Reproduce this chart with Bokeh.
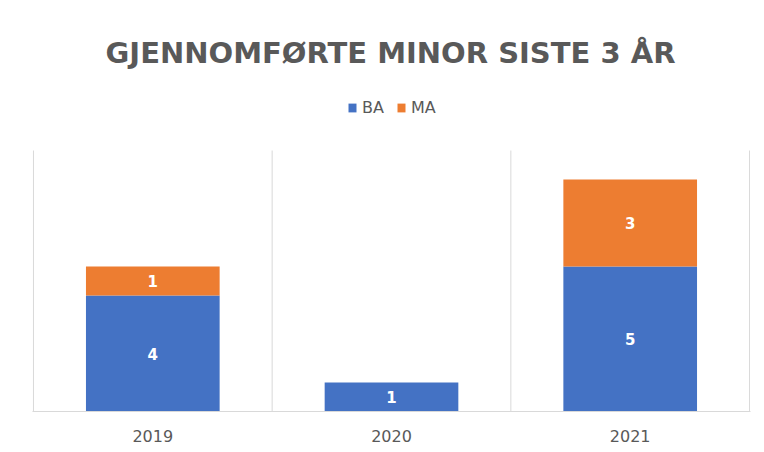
from bokeh.plotting import figure
from bokeh.models import ColumnDataSource, Range1d, FixedTicker, Legend, LegendItem, Label
from bokeh.core.properties import value
from bokeh.embed import file_html
from bokeh.resources import INLINE

# ---- data ----
years = ["2019", "2020", "2021"]
ba = [4, 1, 5]
ma = [1, 0, 3]
series = ["BA", "MA"]
colors = ["#4472C4", "#ED7D31"]
title_text = "GJENNOMFØRTE MINOR SISTE 3 ÅR"
y_max = 9

# layout (pixels)
W, H = 756, 444
left, right, bottom = 32, 6, 33
plot_top = 150            # top of the bar area, from the figure top
frame_h = H - bottom      # frame spans from figure top to the axis
area_h = frame_h - plot_top

xs = [i + 0.5 for i in range(len(years))]
src = ColumnDataSource(dict(x=xs, BA=ba, MA=ma))

p = figure(width=W, height=H, x_range=Range1d(-0.004, len(years) + 0.004),
           y_range=Range1d(0, y_max * frame_h / area_h),
           output_backend="svg", toolbar_location=None, y_axis_location=None,
           min_border_left=left, min_border_right=right, min_border_top=0, min_border_bottom=bottom)
p.outline_line_color = None
p.xgrid.grid_line_color = None
p.ygrid.grid_line_color = None

# vertical separators between categories
bounds = list(range(len(years) + 1))
p.segment(x0=bounds, y0=[0] * len(bounds), x1=bounds, y1=[y_max] * len(bounds),
          line_color="#D9D9D9", line_width=1)

rs = p.vbar_stack(series, x="x", width=0.56, source=src, color=colors, line_color=None)

# axis
p.xaxis.ticker = FixedTicker(ticks=xs)
p.xaxis.major_label_overrides = {x: y for x, y in zip(xs, years)}
p.xaxis.major_tick_line_color = None
p.xaxis.minor_tick_line_color = None
p.xaxis.axis_line_color = "#D9D9D9"
p.xaxis.major_label_text_font = "DejaVu Sans"
p.xaxis.major_label_text_font_size = "16px"
p.xaxis.major_label_text_color = "#595959"
p.xaxis.major_label_standoff = 12

# data labels
lx, ly, lt = [], [], []
for i in range(len(years)):
    if ba[i] > 0:
        lx.append(xs[i]); ly.append(ba[i] / 2); lt.append(str(ba[i]))
    if ma[i] > 0:
        lx.append(xs[i]); ly.append(ba[i] + ma[i] / 2); lt.append(str(ma[i]))
p.text(x=lx, y=ly, text=lt, text_color="white", text_align="center", text_baseline="middle",
       text_font=value("DejaVu Sans"), text_font_style="bold", text_font_size="15px")

# title
p.add_layout(Label(x=358, y=frame_h - 52, x_units="screen", y_units="screen", text=title_text,
                   text_align="center", text_baseline="middle", text_font="DejaVu Sans",
                   text_font_style="bold", text_font_size="29px", text_color="#595959"))

# legend
legend = Legend(items=[LegendItem(label=s, renderers=[r]) for s, r in zip(series, rs)],
                location=(315, frame_h - 117), orientation="horizontal", padding=0, margin=0,
                border_line_color=None, background_fill_alpha=0,
                glyph_width=10, glyph_height=11, label_height=14, label_standoff=5, spacing=12,
                label_text_font="DejaVu Sans", label_text_font_size="16px",
                label_text_color="#595959")
p.add_layout(legend, "center")

open("out.html", "w").write(file_html(p, INLINE))
